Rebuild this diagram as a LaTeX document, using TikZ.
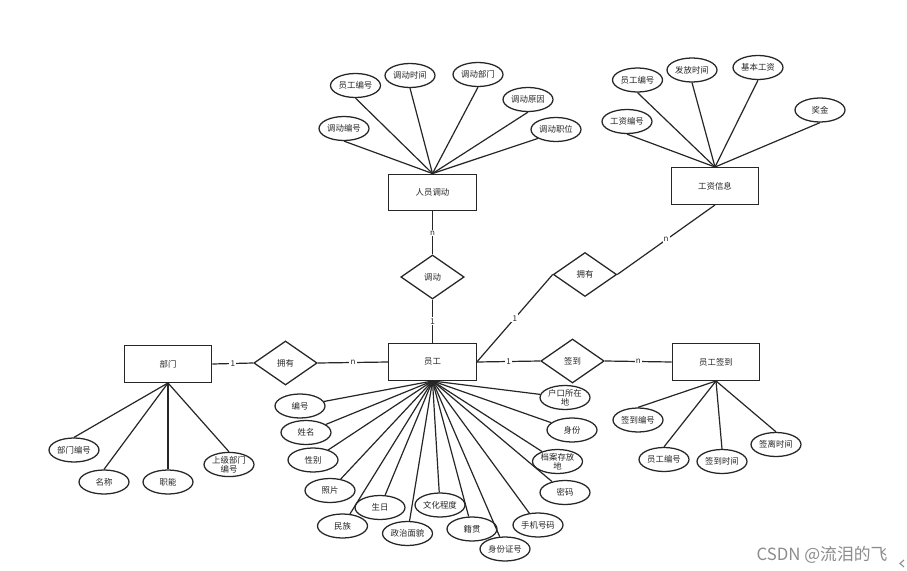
\documentclass[tikz,border=0pt]{standalone}
\usepackage{fontspec}
\setmainfont{Noto Sans CJK SC}
\usetikzlibrary{shapes.geometric}
\begin{document}
\begin{tikzpicture}[x=0.75pt,y=-0.75pt,
  every node/.style={font=\fontsize{6.3}{7}\selectfont, text=black!85},
  ent/.style={draw=black!85, line width=0.95pt, rectangle, minimum width=65.5pt, minimum height=27.5pt, inner sep=0pt},
  rel/.style={draw=black!85, line width=0.95pt, diamond, minimum width=47.5pt, minimum height=33pt, inner sep=0pt},
  att/.style={draw=black!85, line width=0.95pt, ellipse, minimum width=37.5pt, minimum height=18pt, inner sep=0pt, align=center},
  con/.style={draw=black!85, line width=0.9pt},
  lbl/.style={fill=white, inner sep=0.8pt, font=\fontsize{6}{6}\selectfont}
]
\useasboundingbox (0,0) rectangle (907,571);
\fill[white] (0,0) rectangle (907,571);

% entities
\node[ent] (rd) at (432.5,192.5) {人员调动};
\node[ent] (gz) at (715,186) {工资信息};
\node[ent] (bm) at (168,364) {部门};
\node[ent] (yg) at (432.5,362) {员工};
\node[ent] (qd) at (716,362) {员工签到};

% relationships
\node[rel] (r1) at (432.5,277) {调动};
\node[rel] (r2) at (585,274.5) {拥有};
\node[rel] (r3) at (572.5,361) {签到};
\node[rel] (r4) at (285.5,363) {拥有};

% relationship connectors
\draw[con] (rd.south) -- node[lbl]{n} (r1.north);
\draw[con] (r1.south) -- node[lbl]{1} (yg.north);
\draw[con] (yg.east) -- node[lbl]{1} (r2.west);
\draw[con] (r2.east) -- node[lbl]{n} (gz.south);
\draw[con] (yg.east) -- node[lbl]{1} (r3.west);
\draw[con] (r3.east) -- node[lbl]{n} (qd.west);
\draw[con] (bm.east) -- node[lbl]{1} (r4.west);
\draw[con] (r4.east) -- node[lbl]{n} (yg.west);

% 人员调动 attributes
\node[att] (a1) at (344,128.5) {调动编号};
\node[att] (a2) at (355.5,85.5) {员工编号};
\node[att] (a3) at (410,75.5) {调动时间};
\node[att] (a4) at (478,74.5) {调动部门};
\node[att] (a5) at (528,99.5) {调动原因};
\node[att] (a6) at (556,129.5) {调动职位};
\foreach \n in {a1,a2,a3,a4,a5}{\draw[con] (\n.south) -- (rd.north);}
\draw[con] (a6.south west) -- (rd.north);

% 工资信息 attributes
\node[att] (b1) at (627,121.5) {工资编号};
\node[att] (b2) at (637.5,80) {员工编号};
\node[att] (b3) at (692,70) {发放时间};
\node[att] (b4) at (758,67.5) {基本工资};
\node[att] (b5) at (820,110) {奖金};
\foreach \n in {b1,b2,b3,b4,b5}{\draw[con] (\n.south) -- (gz.north);}

% 部门 attributes
\node[att] (c1) at (74,450) {部门编号};
\node[att] (c2) at (104,482) {名称};
\node[att] (c3) at (168,482) {职能};
\node[att] (c4) at (229,464.5) {上级部门\\编号};
\foreach \n in {c1,c2,c3,c4}{\draw[con] (\n.north) -- (bm.south);}

% 员工 attributes
\node[att] (e1) at (300,406) {编号};
\node[att] (e2) at (306,432.5) {姓名};
\node[att] (e3) at (313,460) {性别};
\node[att] (e4) at (330,490.5) {照片};
\node[att] (e5) at (380,507.5) {生日};
\node[att] (e6) at (342.5,526) {民族};
\node[att] (e7) at (407.5,533.5) {政治面貌};
\node[att] (e8) at (440,505) {文化程度};
\node[att] (e9) at (472,529) {籍贯};
\node[att] (e10) at (505,549) {身份证号};
\node[att] (e11) at (538,525) {手机号码};
\node[att] (e12) at (565,492.5) {密码};
\node[att] (e13) at (557.5,461.5) {档案存放\\地};
\node[att] (e14) at (572,430) {身份};
\node[att] (e15) at (565,397.5) {户口所在\\地};
\foreach \n in {e1,e2,e3,e4,e5,e6,e7,e8,e9,e10,e11,e12,e13,e14,e15}{\draw[con] (\n) -- (yg.south);}

% 员工签到 attributes
\node[att] (f1) at (638,420) {签到编号};
\node[att] (f2) at (664,459.5) {员工编号};
\node[att] (f3) at (722,461.5) {签到时间};
\node[att] (f4) at (776,444.5) {签离时间};
\foreach \n in {f1,f2,f3,f4}{\draw[con] (\n.north) -- (qd.south);}

% watermark
\node[font=\fontsize{12.6}{14}\selectfont, text=black!45, anchor=center, inner sep=0pt] (wm) at (822,555) {CSDN @流泪的飞};
\draw[black!45, line width=0.8pt] (904,560) -- (900,563.5) -- (904,567);
\end{tikzpicture}
\end{document}
